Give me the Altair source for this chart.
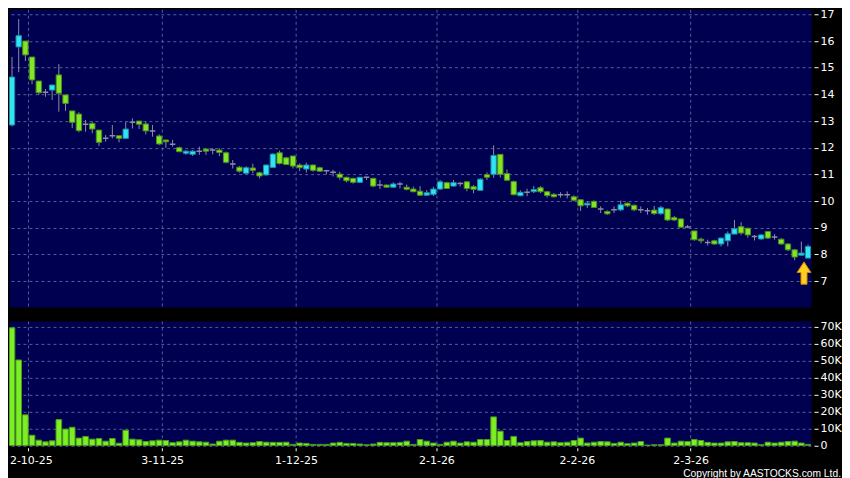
import altair as alt
import numpy as np
import pandas as pd

# ---- data (one entry per trading day) ----
first_day = -2  # trading-day index of the first candle (0 = 2-10-25)

opens = [12.85, 15.78, 16.0, 15.4, 14.5, 14.08, 14.16, 14.73, 13.98, 13.38,
         13.26, 12.88, 12.91, 12.66, 12.35, 12.45, 12.45, 12.35, 12.95, 13.0,
         12.89, 12.63, 12.44, 12.29, 12.13, 12.0, 11.79, 11.75, 11.87, 11.95,
         11.91, 11.91, 11.81, 11.39, 11.27, 11.04, 11.24, 11.06, 10.98, 11.26,
         11.81, 11.62, 11.69, 11.35, 11.2, 11.35, 11.25, 11.14, 11.08, 11.01,
         10.89, 10.85, 10.7, 10.89, 10.85, 10.6, 10.6, 10.52, 10.64, 10.52,
         10.45, 10.37, 10.22, 10.25, 10.45, 10.69, 10.56, 10.66, 10.72, 10.54,
         10.4, 10.99, 11.0, 11.75, 11.03, 10.73, 10.2, 10.33, 10.35, 10.5,
         10.35, 10.25, 10.24, 10.24, 10.16, 10.05, 9.85, 9.99, 9.7, 9.61,
         9.67, 9.67, 9.92, 9.84, 9.67, 9.64, 9.66, 9.53, 9.7, 9.38,
         9.33, 9.03, 8.88, 8.57, 8.45, 8.51, 8.39, 8.51, 8.76, 9.04,
         8.98, 8.67, 8.58, 8.86, 8.65, 8.57, 8.39, 8.17, 7.97, 7.86]
closes = [14.65, 16.2, 15.48, 14.54, 14.06, 14.08, 14.35, 14.04, 13.66, 12.95,
          12.64, 12.88, 12.7, 12.2, 12.35, 12.45, 12.35, 12.7, 12.95, 12.88,
          12.63, 12.63, 12.14, 12.22, 12.13, 11.85, 11.87, 11.87, 11.87, 11.87,
          11.91, 11.82, 11.45, 11.39, 11.12, 11.25, 11.15, 10.94, 11.35, 11.76,
          11.41, 11.37, 11.31, 11.25, 11.35, 11.15, 11.12, 11.14, 11.08, 10.89,
          10.76, 10.7, 10.89, 10.89, 10.56, 10.6, 10.52, 10.64, 10.64, 10.44,
          10.35, 10.22, 10.31, 10.45, 10.72, 10.47, 10.69, 10.66, 10.47, 10.44,
          10.82, 10.89, 11.71, 11.0, 10.78, 10.24, 10.33, 10.33, 10.43, 10.35,
          10.21, 10.16, 10.24, 10.24, 10.03, 9.82, 9.92, 9.76, 9.7, 9.52,
          9.67, 9.86, 9.82, 9.67, 9.67, 9.64, 9.53, 9.75, 9.29, 9.29,
          9.02, 9.03, 8.55, 8.51, 8.45, 8.39, 8.61, 8.77, 8.96, 8.8,
          8.73, 8.67, 8.73, 8.61, 8.65, 8.39, 8.17, 7.9, 8.05, 8.3]
highs = [15.4, 16.82, 16.0, 15.4, 14.5, 14.2, 14.37, 15.13, 13.98, 13.38,
         13.33, 13.04, 12.98, 12.66, 12.48, 12.85, 12.45, 12.98, 13.1, 13.0,
         12.98, 12.85, 12.5, 12.29, 12.29, 12.04, 11.91, 11.91, 12.04, 11.98,
         11.98, 11.98, 11.85, 11.54, 11.31, 11.31, 11.4, 11.1, 11.37, 11.79,
         11.89, 11.66, 11.69, 11.41, 11.44, 11.37, 11.29, 11.17, 11.17, 11.1,
         10.91, 10.87, 10.89, 10.91, 10.87, 10.79, 10.62, 10.7, 10.72, 10.62,
         10.54, 10.56, 10.41, 10.54, 10.79, 10.72, 10.79, 10.72, 10.75, 10.6,
         10.85, 11.07, 12.09, 11.75, 11.18, 10.77, 10.4, 10.46, 10.56, 10.56,
         10.38, 10.3, 10.33, 10.36, 10.21, 10.05, 9.99, 10.02, 9.8, 9.65,
         9.8, 10.02, 9.95, 9.87, 9.8, 9.74, 9.82, 9.82, 9.72, 9.44,
         9.35, 9.1, 8.88, 8.63, 8.55, 8.55, 8.63, 8.86, 9.29, 9.2,
         9.0, 8.73, 8.76, 8.88, 8.76, 8.61, 8.42, 8.2, 8.48, 8.37]
lows = [12.8, 14.83, 15.25, 14.38, 13.98, 13.91, 13.79, 13.35, 13.38, 12.73,
        12.58, 12.6, 12.54, 12.06, 12.23, 12.35, 12.2, 12.33, 12.72, 12.7,
        12.5, 12.41, 12.1, 12.0, 12.04, 11.83, 11.73, 11.69, 11.73, 11.73,
        11.75, 11.69, 11.41, 11.22, 11.07, 11.04, 11.04, 10.85, 10.95, 11.26,
        11.37, 11.35, 11.22, 11.12, 11.07, 11.1, 11.1, 11.0, 10.92, 10.8,
        10.7, 10.65, 10.7, 10.79, 10.52, 10.45, 10.5, 10.5, 10.47, 10.4,
        10.33, 10.2, 10.2, 10.19, 10.41, 10.45, 10.54, 10.54, 10.37, 10.29,
        10.4, 10.79, 10.87, 10.88, 10.75, 10.21, 10.18, 10.18, 10.3, 10.3,
        10.13, 10.13, 10.13, 10.1, 9.99, 9.63, 9.74, 9.74, 9.55, 9.48,
        9.55, 9.62, 9.77, 9.62, 9.55, 9.49, 9.48, 9.48, 9.25, 9.25,
        9.0, 8.98, 8.51, 8.42, 8.33, 8.36, 8.3, 8.3, 8.76, 8.73,
        8.63, 8.52, 8.54, 8.58, 8.55, 8.36, 8.13, 7.78, 7.95, 7.86]
volumes_k = [69.4, 50.5, 18.2, 6.2, 3.3, 2.3, 2.9, 15.4, 9.8, 10.9,
             4.5, 5.5, 3.9, 4.3, 2.7, 4.3, 1.5, 9.2, 3.9, 3.5,
             2.5, 2.9, 3.3, 3.1, 1.8, 2.3, 3.3, 2.7, 2.3, 2.1,
             1.0, 2.7, 3.3, 3.3, 2.0, 1.6, 1.8, 2.5, 2.1, 2.0,
             2.0, 2.1, 0.8, 1.6, 1.4, 0.8, 0.8, 0.8, 1.6, 2.0,
             1.4, 1.4, 1.0, 0.6, 1.0, 2.0, 1.8, 1.8, 2.0, 2.7,
             0.8, 3.7, 2.7, 1.6, 0.8, 2.1, 2.7, 1.6, 2.3, 2.1,
             3.7, 3.7, 17.0, 8.6, 3.1, 5.5, 1.8, 2.5, 2.9, 3.1,
             2.1, 2.3, 1.8, 2.1, 3.1, 4.5, 1.6, 2.1, 2.5, 2.3,
             1.4, 2.1, 1.2, 1.6, 2.5, 0.4, 0.6, 0.6, 4.5, 1.6,
             2.7, 2.5, 3.7, 3.1, 2.0, 1.6, 1.6, 2.3, 2.5, 1.8,
             1.8, 1.6, 0.6, 2.1, 1.6, 2.1, 2.5, 2.7, 1.6, 0.8]

tick_days = [0, 20, 40, 61, 82, 99]
tick_labels = ["2-10-25", "3-11-25", "1-12-25", "2-1-26", "2-2-26", "2-3-26"]
price_ticks = [7, 8, 9, 10, 11, 12, 13, 14, 15, 16, 17]
volume_ticks = [0, 10000, 20000, 30000, 40000, 50000, 60000, 70000]
copyright_text = ["Copyright by AASTOCKS.com Ltd."]
marker_day = [116.4]
marker_price = [7.3]

# ---- styling ----
NAVY = "#000050"
GRID = "#5a5a9c"
CYAN = "#30e4f4"
CYAN_EDGE = "#1a8ea6"
GREEN = "#80e626"
GREEN_EDGE = "#4c8c1c"
WICK = "#8c8ca4"
VOL = "#7cee24"
VOL_EDGE = "#4a9a1a"
FONT = "DejaVu Sans"
PLOT_W = 803

n = len(opens)
df = pd.DataFrame({
    "day": list(range(first_day, first_day + n)),
    "open": opens, "high": highs, "low": lows, "close": closes,
    "volume": [v * 1000 for v in volumes_k],
})
o = np.array(opens); c = np.array(closes)
df["dir"] = np.where(c > o, "up", np.where(c < o, "down", "flat"))

x_scale = alt.Scale(domain=[-2.45, 117.45], nice=False, zero=False)
p_scale = alt.Scale(domain=[6.03, 17.19], nice=False, zero=False)
v_scale = alt.Scale(domain=[0, 73500], nice=False)

grid_pos = [d + 0.45 for d in tick_days]
label_expr = ""
for p, lab in zip(grid_pos, tick_labels):
    label_expr += f"abs(datum.value - {p}) < 0.01 ? '{lab}' : "
label_expr += "''"

price_x_axis = alt.Axis(values=grid_pos, grid=True, gridColor=GRID, gridDash=[3, 3],
                        labels=False, ticks=False, domain=False, title=None)
price_y_axis = alt.Axis(orient="right", values=price_ticks, title=None, grid=True,
                        gridColor=GRID, gridDash=[3, 3], domain=False,
                        tickColor="white", tickSize=4, offset=3, labelPadding=2,
                        labelColor="white", labelFont=FONT, labelFontSize=11,
                        labelFlush=False, labelOverlap=False,
                        labelExpr="toString(datum.value)")

base = alt.Chart(df)

wicks = base.mark_rule(color=WICK, strokeWidth=1, clip=True).encode(
    x=alt.X("day:Q", scale=x_scale, axis=price_x_axis),
    y=alt.Y("low:Q", scale=p_scale, axis=price_y_axis),
    y2=alt.Y2("high"),
)

bodies = base.transform_filter("datum.dir != 'flat'").transform_calculate(
    x0="datum.day - 0.4", x1="datum.day + 0.4",
    b0="min(datum.open, datum.close)", b1="max(datum.open, datum.close)",
).mark_bar(strokeWidth=1, clip=True).encode(
    x=alt.X("x0:Q", scale=x_scale, axis=price_x_axis), x2=alt.X2("x1"),
    y=alt.Y("b0:Q", scale=p_scale, axis=price_y_axis), y2=alt.Y2("b1"),
    fill=alt.Fill("dir:N", scale=alt.Scale(domain=["up", "down"], range=[CYAN, GREEN]), legend=None),
    stroke=alt.Stroke("dir:N", scale=alt.Scale(domain=["up", "down"], range=[CYAN_EDGE, GREEN_EDGE]), legend=None),
)

dojis = base.transform_filter("datum.dir == 'flat'").transform_calculate(
    x0="datum.day - 0.42", x1="datum.day + 0.42",
).mark_rule(color=WICK, strokeWidth=1.5, clip=True).encode(
    x=alt.X("x0:Q", scale=x_scale, axis=price_x_axis), x2=alt.X2("x1"),
    y=alt.Y("open:Q", scale=p_scale, axis=price_y_axis),
)

arrow_path = "M0,-1L0.62,-0.05L0.27,-0.05L0.27,1L-0.27,1L-0.27,-0.05L-0.62,-0.05Z"
marker = alt.Chart(pd.DataFrame({"day": marker_day, "price": marker_price})).mark_point(
    shape=arrow_path, size=500, filled=True, fill="#ffcc22", stroke="#d08a00",
    strokeWidth=1, opacity=1,
).encode(
    x=alt.X("day:Q", scale=x_scale, axis=price_x_axis),
    y=alt.Y("price:Q", scale=p_scale, axis=price_y_axis),
)

price = alt.layer(wicks, bodies, dojis, marker).properties(width=PLOT_W, height=298)

vol_x_axis = alt.Axis(values=grid_pos, grid=True, gridColor=GRID, gridDash=[3, 3],
                      labelExpr=label_expr, labelColor="white", labelFont=FONT,
                      labelFontSize=11, tickColor="white", tickSize=3, offset=2,
                      labelPadding=4, domain=False, title=None, labelFlush=25,
                      labelFlushOffset=19, labelOverlap=False)
vol_y_axis = alt.Axis(orient="right", values=volume_ticks, title=None, grid=True,
                      gridColor=GRID, gridDash=[3, 3], domain=False,
                      tickColor="white", tickSize=4, offset=3, labelPadding=2,
                      labelColor="white", labelFont=FONT, labelFontSize=11,
                      labelFlush=False, labelOverlap=False,
                      labelExpr="datum.value == 0 ? '0' : (datum.value / 1000) + 'K'")

vol_bars = base.transform_calculate(
    x0="datum.day - 0.42", x1="datum.day + 0.42", zero="0",
).mark_bar(fill=VOL, stroke=VOL_EDGE, strokeWidth=1, clip=True).encode(
    x=alt.X("x0:Q", scale=x_scale, axis=vol_x_axis), x2=alt.X2("x1"),
    y=alt.Y("volume:Q", scale=v_scale, axis=vol_y_axis), y2=alt.Y2("zero"),
)

copyright_mark = alt.Chart(pd.DataFrame({"t": copyright_text})).mark_text(
    align="right", baseline="alphabetic", color="white",
    font="Liberation Sans", fontSize=10.3,
).encode(x=alt.value(PLOT_W + 30), y=alt.value(156.5), text="t:N")

volume = alt.layer(vol_bars, copyright_mark).properties(width=PLOT_W, height=125)

chart = alt.vconcat(price, volume, spacing=12).properties(
    background="black", padding={"top": -1, "left": 0, "right": 0, "bottom": 0}
).configure_view(fill=NAVY, stroke="transparent").configure_axis(labelOverlap=False)

chart.save("out.html", embed_options={"renderer": "svg", "actions": False})
